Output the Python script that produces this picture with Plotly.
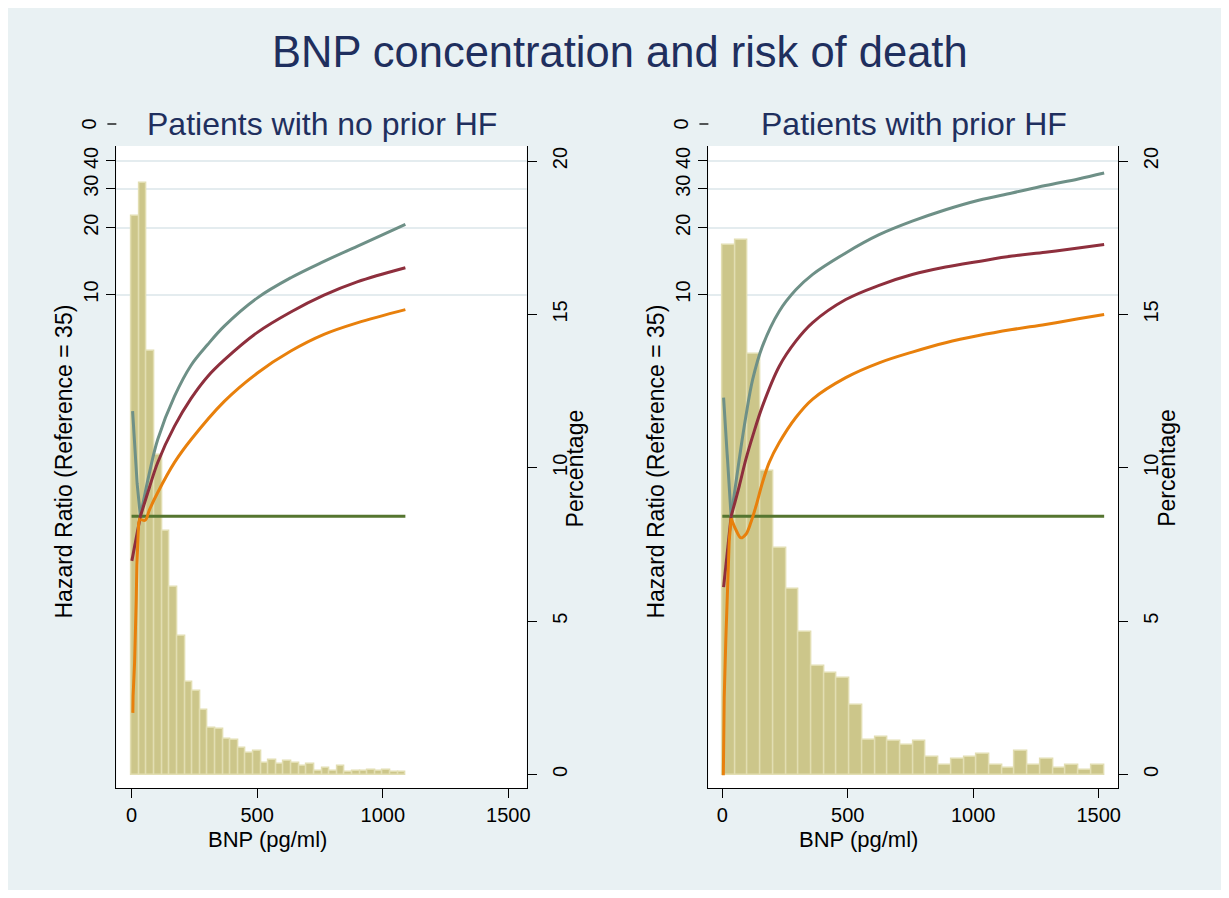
import numpy as np
import plotly.graph_objects as go

PAGE_W, PAGE_H = 1229, 898
OFF = 8                      # default page margin around the figure
W, H = PAGE_W - 2 * OFF, PAGE_H - 2 * OFF
REF_BNP = 35

# ---------------- Patients with no prior HF ----------------
noHF_bin_start = 0.0
noHF_bin_width = 30.3
noHF_pct = [18.2, 19.3, 13.8, 10.4, 7.94, 6.12, 4.53, 3.0, 2.71, 2.11, 1.51, 1.49,
            1.17, 1.13, 0.86, 0.70, 0.77, 0.37, 0.48, 0.34, 0.44, 0.39, 0.28, 0.34,
            0.10, 0.21, 0.10, 0.28, 0.07, 0.10, 0.10, 0.14, 0.10, 0.14, 0.07, 0.07]

noHF_upper_bnp = [4, 15, 22, 35, 71, 104, 171, 237, 303, 369, 501, 634, 766, 898, 1090]
noHF_upper_hr = [2.98, 2.0, 1.41, 1.0, 1.57, 2.22, 3.48, 4.8, 5.95, 7.2, 9.66, 11.9, 14.1, 16.5, 20.7]

noHF_est_bnp = [1, 18, 35, 71, 104, 171, 237, 303, 369, 501, 634, 766, 898, 1090]
noHF_est_hr = [0.63, 0.78, 1.0, 1.35, 1.75, 2.55, 3.40, 4.27, 5.07, 6.75, 8.34, 9.93, 11.4, 13.2]

noHF_lower_bnp = [5, 6, 12, 16, 18.5, 21, 25, 28, 32, 35, 54, 71, 104, 171, 237, 369,
                  501, 634, 766, 898, 1090]
noHF_lower_hr = [0.13, 0.155, 0.22, 0.30, 0.42, 0.60, 0.79, 0.93, 0.97, 0.97, 0.96, 1.07,
                 1.28, 1.75, 2.22, 3.30, 4.43, 5.56, 6.61, 7.45, 8.55]

noHF_ref_bnp = [0, 1090]
noHF_ref_hr = [1, 1]

# ---------------- Patients with prior HF ----------------
HF_bin_start = 0.0
HF_bin_width = 50.7
HF_pct = [17.25, 17.44, 13.7, 9.9, 7.38, 6.04, 4.64, 3.55, 3.30, 3.13, 2.25, 1.13,
          1.23, 1.08, 0.97, 1.08, 0.57, 0.32, 0.50, 0.57, 0.66, 0.32, 0.21, 0.75,
          0.32, 0.50, 0.21, 0.32, 0.15, 0.32]

HF_upper_bnp = [5, 14.5, 25, 35, 67.5, 94, 121, 160, 227, 293, 359, 492, 625, 757, 890,
                1022, 1155, 1288, 1419, 1522]
HF_upper_hr = [3.43, 2.30, 1.51, 1.0, 1.81, 2.83, 4.14, 5.85, 8.41, 10.5, 12.3, 15.4,
               18.6, 21.4, 24.1, 26.6, 28.7, 31.0, 33.2, 35.3]

HF_est_bnp = [5, 21, 35, 67.5, 94, 121, 160, 227, 293, 359, 492, 625, 757, 890, 1022,
              1155, 1288, 1419, 1522]
HF_est_hr = [0.48, 0.73, 1.0, 1.37, 1.81, 2.30, 3.14, 4.75, 6.16, 7.45, 9.49, 11.0, 12.3,
             13.3, 14.1, 14.9, 15.5, 16.2, 16.8]

HF_lower_bnp = [4, 7.5, 14, 21, 27.5, 35, 54, 74, 94, 114, 134, 160, 187, 227, 293, 359,
                492, 625, 757, 890, 1022, 1155, 1288, 1419, 1522]
HF_lower_hr = [0.068, 0.152, 0.28, 0.49, 0.78, 0.98, 0.87, 0.80, 0.83, 0.94, 1.11, 1.42,
               1.75, 2.15, 2.79, 3.37, 4.22, 4.92, 5.50, 6.06, 6.53, 6.95, 7.33, 7.77, 8.13]

HF_ref_bnp = [0, 1522]
HF_ref_hr = [1, 1]

# ---------------- text ----------------
main_title = "BNP concentration and risk of death"
panel_titles = ["Patients with no prior HF", "Patients with prior HF"]
x_title = "BNP (pg/ml)"
hr_title = "Hazard Ratio (Reference = 35)"
pct_title = "Percentage"
x_ticks = [0, 500, 1000, 1500]
hr_ticks = [10, 20, 30, 40]
pct_ticks = [0, 5, 10, 15, 20]

# ---------------- style ----------------
FONT = "Liberation Sans, Arial, sans-serif"
NAVY = "#1F2F5E"
BG = "#E9F1F3"
GRID = "#E4ECEF"
BAR_FILL = "#CCC68A"
BAR_LINE = "#E2DEB2"
C_UPPER = "#6E9087"
C_EST = "#8E2F3D"
C_LOWER = "#E8800C"
C_REF = "#55752F"


def px(x):
    """page pixel -> paper fraction"""
    return (x - OFF) / W


def py(y):
    return 1 - (y - OFF) / H


fig = go.Figure()

panels = [
    dict(bin_start=noHF_bin_start, bin_width=noHF_bin_width, pct=noHF_pct,
         curves=[(noHF_upper_bnp, noHF_upper_hr, C_UPPER),
                 (noHF_est_bnp, noHF_est_hr, C_EST),
                 (noHF_lower_bnp, noHF_lower_hr, C_LOWER)],
         ref=(noHF_ref_bnp, noHF_ref_hr),
         left=116.7, right=528.3, xrange=[-60.7, 1572.6], xt_center=268),
    dict(bin_start=HF_bin_start, bin_width=HF_bin_width, pct=HF_pct,
         curves=[(HF_upper_bnp, HF_upper_hr, C_UPPER),
                 (HF_est_bnp, HF_est_hr, C_EST),
                 (HF_lower_bnp, HF_lower_hr, C_LOWER)],
         ref=(HF_ref_bnp, HF_ref_hr),
         left=710.7, right=1121.7, xrange=[-55.6, 1577.3], xt_center=861),
]

TOP, BOTTOM = 146.0, 788.3
layout_axes = {}

for i, p in enumerate(panels):
    xa = "x" if i == 0 else "x2"
    ya_pct = "y" if i == 0 else "y3"
    ya_hr = "y2" if i == 0 else "y4"
    xkey = "xaxis" if i == 0 else "xaxis2"
    pkey = "yaxis" if i == 0 else "yaxis3"
    hkey = "yaxis2" if i == 0 else "yaxis4"

    n = len(p["pct"])
    centers = p["bin_start"] + (np.arange(n) + 0.5) * p["bin_width"]
    fig.add_trace(go.Bar(x=centers, y=p["pct"], width=p["bin_width"],
                         marker=dict(color=BAR_FILL, line=dict(color=BAR_LINE, width=1.5)),
                         xaxis=xa, yaxis=ya_pct, showlegend=False, hoverinfo="skip"))

    rx, ry = p["ref"]
    fig.add_trace(go.Scatter(x=rx, y=ry, mode="lines", line=dict(color=C_REF, width=3),
                             xaxis=xa, yaxis=ya_hr, showlegend=False))

    for bx, hr, col in p["curves"]:
        bx = np.asarray(bx, float)
        hr = np.asarray(hr, float)
        lm = bx <= REF_BNP
        rm = bx >= REF_BNP
        fig.add_trace(go.Scatter(x=bx[lm], y=hr[lm], mode="lines",
                                 line=dict(color=col, width=3),
                                 xaxis=xa, yaxis=ya_hr, showlegend=False))
        fig.add_trace(go.Scatter(x=bx[rm], y=hr[rm], mode="lines",
                                 line=dict(color=col, width=3, shape="spline", smoothing=1.0),
                                 xaxis=xa, yaxis=ya_hr, showlegend=False))

    common_tick = dict(ticks="outside", ticklen=9, tickwidth=1.3, tickcolor="black",
                       showline=True, linecolor="black", linewidth=1.3, zeroline=False,
                       tickfont=dict(family=FONT, size=20, color="black"))
    layout_axes[xkey] = dict(domain=[px(p["left"]), px(p["right"])], range=p["xrange"],
                             anchor=ya_pct, tickvals=x_ticks, showgrid=False,
                             fixedrange=True, **common_tick)
    layout_axes[pkey] = dict(domain=[py(BOTTOM), py(TOP)], range=[-0.45, 20.49],
                             anchor=xa, side="right", tickvals=pct_ticks, tickangle=-90,
                             ticklabelstandoff=6, showgrid=False, **common_tick)
    layout_axes[hkey] = dict(type="log", range=[-1.226, 1.6695], overlaying=ya_pct,
                             anchor=xa, side="left", tickvals=hr_ticks,
                             ticktext=[str(t) for t in hr_ticks], tickangle=-90,
                             showgrid=True, gridcolor=GRID, gridwidth=2, **common_tick)

fig.update_layout(**layout_axes)

ann = []
shapes = []
ann.append(dict(text=main_title, x=px(622.5), y=py(52), xref="paper", yref="paper",
                showarrow=False, font=dict(family=FONT, size=43.5, color=NAVY),
                xanchor="center", yanchor="middle"))
for i, p in enumerate(panels):
    cx = (p["left"] + p["right"]) / 2
    ann.append(dict(text=panel_titles[i], x=px(cx + 1), y=py(124), xref="paper", yref="paper",
                    showarrow=False, font=dict(family=FONT, size=32, color=NAVY),
                    xanchor="center", yanchor="middle"))
    ann.append(dict(text=x_title, x=px(p["xt_center"]), y=py(839), xref="paper", yref="paper",
                    showarrow=False, font=dict(family=FONT, size=22, color="black"),
                    xanchor="center", yanchor="middle"))
    ann.append(dict(text=hr_title, x=px(p["left"] - 53), y=py(462), xref="paper", yref="paper",
                    showarrow=False, textangle=-90, font=dict(family=FONT, size=23, color="black"),
                    xanchor="center", yanchor="middle"))
    ann.append(dict(text=pct_title, x=px(p["right"] + 49), y=py(468), xref="paper", yref="paper",
                    showarrow=False, textangle=-90, font=dict(family=FONT, size=23, color="black"),
                    xanchor="center", yanchor="middle"))
    # the "0" label Stata places above the log axis
    ann.append(dict(text="0", x=px(p["left"] - 27), y=py(124), xref="paper", yref="paper",
                    showarrow=False, textangle=-90, font=dict(family=FONT, size=20, color="black"),
                    xanchor="center", yanchor="middle"))
    shapes.append(dict(type="line", xref="paper", yref="paper",
                       x0=px(p["left"] - 9), x1=px(p["left"]), y0=py(124), y1=py(124),
                       line=dict(color="black", width=1.3)))

fig.update_layout(width=W, height=H, margin=dict(l=0, r=0, t=0, b=0),
                  paper_bgcolor=BG, plot_bgcolor="white", bargap=0,
                  annotations=ann, shapes=shapes, showlegend=False,
                  font=dict(family=FONT))

fig.write_html("out.html")
